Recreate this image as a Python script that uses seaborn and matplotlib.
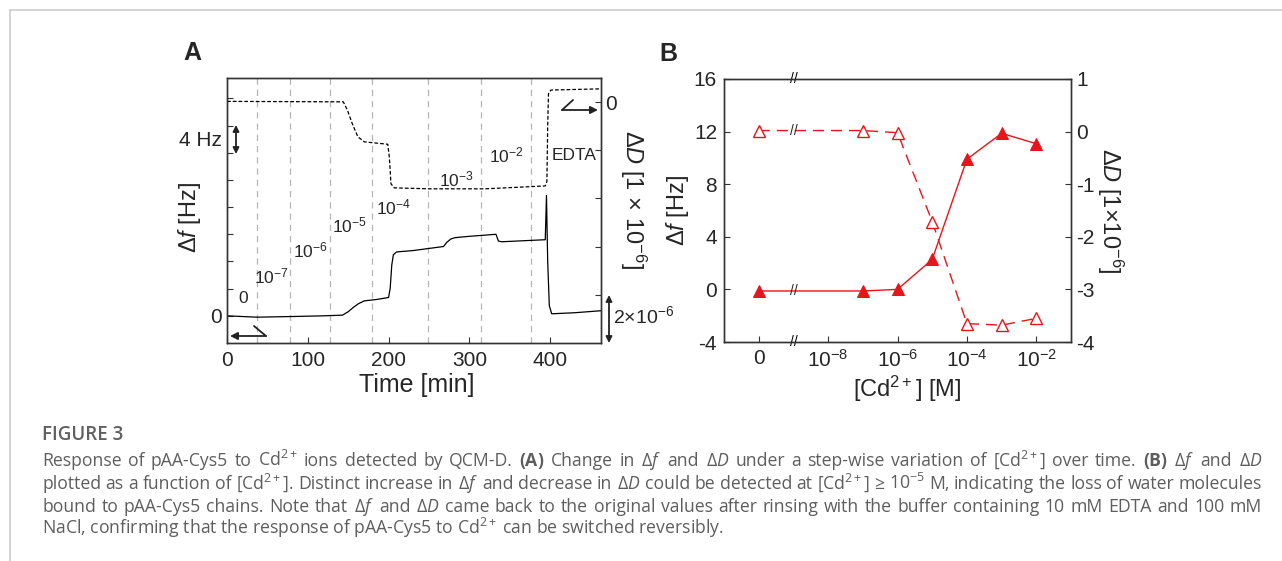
import numpy as np
import seaborn as sns
import matplotlib.pyplot as plt
from matplotlib.lines import Line2D

# ---- data ----
# panel A: QCM-D traces over time
time_f = [0, 37, 82, 120, 143, 150, 157, 163, 170, 185, 200, 202, 204, 206, 210, 230,
          268, 272, 277, 282, 300, 333, 336, 340, 394, 395.5, 397, 399, 402, 430, 463]
df_hz = [0, -0.2, -0.1, 0.0, 0.1, 0.6, 1.3, 1.8, 2.2, 2.4, 2.7, 4.0, 7.5, 9.0, 9.4, 9.6,
         10.2, 10.8, 11.3, 11.5, 11.7, 12.0, 11.0, 10.9, 11.2, 17.7, 8.0, 1.5, 0.3, 0.45, 0.75]
time_d = [0, 144, 149, 155, 162, 170, 199, 201, 203, 207, 250, 320, 394, 396, 397, 398, 401, 463]
dd_1e6 = [0.03, 0.01, -0.33, -0.89, -1.44, -1.65, -1.75, -2.3, -3.39, -3.56, -3.6, -3.6,
          -3.48, -3.3, -1.0, 0.35, 0.5, 0.55]
inject_times = [37, 78, 127.5, 179, 249, 315, 376.5]
step_labels = ["0", "$10^{-7}$", "$10^{-6}$", "$10^{-5}$", "$10^{-4}$", "$10^{-3}$", "$10^{-2}$"]
step_label_t = [20, 55, 103, 152, 206, 284, 346]
step_label_hz = [2.5, 5.8, 9.6, 13.3, 16.0, 20.0, 23.6]

# panel B: plateau values vs concentration
conc = [0, 1e-7, 1e-6, 1e-5, 1e-4, 1e-3, 1e-2]
df_b = [-0.12, -0.12, 0.0, 2.28, 9.9, 11.87, 11.08]
dd_b = [0.02, 0.02, -0.02, -1.71, -3.65, -3.68, -3.55]
conc_ticks = ["0", "$10^{-8}$", "$10^{-6}$", "$10^{-4}$", "$10^{-2}$"]

caption = [
    r"Response of pAA-Cys5 to Cd$^{\mathsf{2+}}$ ions detected by QCM-D. $\mathbf{(A)}$ Change in Δ$\mathcal{f}$ and Δ$\mathcal{D}$ under a step-wise variation of [Cd$^{\mathsf{2+}}$] over time. $\mathbf{(B)}$ Δ$\mathcal{f}$ and Δ$\mathcal{D}$",
    r"plotted as a function of [Cd$^{\mathsf{2+}}$]. Distinct increase in Δ$\mathcal{f}$ and decrease in Δ$\mathcal{D}$ could be detected at [Cd$^{\mathsf{2+}}$] ≥ 10$^{\mathsf{-5}}$ M, indicating the loss of water molecules",
    r"bound to pAA-Cys5 chains. Note that Δ$\mathcal{f}$ and Δ$\mathcal{D}$ came back to the original values after rinsing with the buffer containing 10 mM EDTA and 100 mM",
    r"NaCl, confirming that the response of pAA-Cys5 to Cd$^{\mathsf{2+}}$ can be switched reversibly.",
]

sns.set_style("ticks")
plt.rcParams["font.family"] = ["Liberation Sans", "DejaVu Sans"]
plt.rcParams["axes.unicode_minus"] = False
plt.rcParams["mathtext.fontset"] = "custom"
plt.rcParams["mathtext.rm"] = "Liberation Sans"
plt.rcParams["mathtext.it"] = "Liberation Sans:italic"
plt.rcParams["mathtext.sf"] = "Open Sans"
plt.rcParams["mathtext.cal"] = "Open Sans:italic"
plt.rcParams["mathtext.bf"] = "Open Sans:bold"

W, H = 1282, 561
red = "#e8141b"
spine_c = "#333333"

fig = plt.figure(figsize=(W / 100, H / 100), dpi=100)


def fpx(x, y):
    # picture pixel (top-left origin) -> figure pixels
    return (x, H - y)


def style_box(ax):
    for s in ax.spines.values():
        s.set_visible(True)
        s.set_color(spine_c)
        s.set_linewidth(1.0)


# ---------------- panel A ----------------
axA = fig.add_axes([227 / W, 1 - 343 / H, 374 / W, 265 / H])
axA2 = axA.twinx()
for t in inject_times:
    axA.axvline(t, color="#b5b5b5", lw=0.9, ls=(0, (5, 4)), zorder=0)
sns.lineplot(x=time_f, y=df_hz, ax=axA, color="black", lw=0.9, estimator=None, sort=False)
sns.lineplot(x=time_d, y=dd_1e6, ax=axA2, color="black", lw=0.9, estimator=None, sort=False,
             linestyle=(0, (3, 1.6)))
axA.set_xlim(0, 463)
axA.set_ylim(-4, 35)
axA2.set_ylim(-10, 1)
axA.set_xticks([0, 100, 200, 300, 400])
axA.set_yticks(np.arange(0, 33, 4))
axA.set_yticklabels(["0"] + [""] * 8)
axA2.set_yticks([0, -2, -4, -6, -8])
axA2.set_yticklabels(["0", "", "", "", ""])
axA.tick_params(axis="x", direction="in", length=4, labelsize=15, pad=6, color=spine_c)
axA.tick_params(axis="y", direction="in", length=4, labelsize=15, pad=4, color=spine_c)
axA2.tick_params(axis="y", direction="in", length=4, labelsize=15, pad=3, color=spine_c)
style_box(axA)
style_box(axA2)
axA.set_xlabel("Time [min]", fontsize=18)
axA.xaxis.set_label_coords(0.508, -0.113)
axA.set_ylabel(r"Δ$f$ [Hz]", fontsize=17)
axA.yaxis.set_label_coords(-0.064, 0.475)
axA2.set_ylabel(r"Δ$D$ [1 × 10$^{-6}$]", fontsize=17, rotation=270, va="center")
axA2.yaxis.set_label_coords(1.086, 0.54)
for lab, t, hz in zip(step_labels, step_label_t, step_label_hz):
    axA.text(t, hz, lab, fontsize=12.5, ha="center", va="center")
axA.text(402, 23.6, "EDTA", fontsize=12.5, ha="left", va="center")

# ---------------- panel B ----------------
axB = fig.add_axes([724 / W, 1 - 342 / H, 347 / W, 263 / H])
axB2 = axB.twinx()
x_b = [np.log10(c) if c > 0 else -10 for c in conc]
sns.lineplot(x=x_b, y=df_b, ax=axB, color=red, lw=1, marker="^", markersize=9,
             markeredgecolor=red, markerfacecolor=red, estimator=None)
sns.lineplot(x=x_b, y=dd_b, ax=axB2, color=red, lw=1, marker="^", markersize=9,
             markeredgecolor=red, markerfacecolor="white", markeredgewidth=1,
             linestyle=(0, (8, 5)), estimator=None)
axB.set_xlim(-11, -1)
axB.set_ylim(-4, 16)
axB2.set_ylim(-4, 1)
axB.set_xticks([-10, -8, -6, -4, -2])
axB.set_xticklabels(conc_ticks)
axB.set_yticks([-4, 0, 4, 8, 12, 16])
axB2.set_yticks([-4, -3, -2, -1, 0, 1])
axB.tick_params(axis="x", direction="in", length=4, labelsize=15, pad=5, color=spine_c)
axB.tick_params(axis="y", direction="in", length=4, labelsize=15, pad=5, color=spine_c)
axB2.tick_params(axis="y", direction="in", length=4, labelsize=15, pad=4, color=spine_c)
style_box(axB)
style_box(axB2)
axB.set_xlabel("[Cd$^{2+}$] [M]", fontsize=17)
axB.xaxis.set_label_coords(0.527, -0.12)
axB.set_ylabel(r"Δ$f$ [Hz]", fontsize=17)
axB.yaxis.set_label_coords(-0.095, 0.5)
axB2.set_ylabel(r"Δ$D$ [1×10$^{-6}$]", fontsize=17, rotation=270, va="center")
axB2.yaxis.set_label_coords(1.112, 0.5)

# axis-break marks at the gap between 0 and 10^-8
brk = -9
for yy in (0, 1):
    axB.annotate("//", xy=(brk, yy), xycoords=("data", "axes fraction"),
                 ha="center", va="center", fontsize=10, color="black")
axB.annotate("//", xy=(brk, np.mean(df_b[:2])), ha="center", va="center", fontsize=10)
axB2.annotate("//", xy=(brk, np.mean(dd_b[:2])), ha="center", va="center", fontsize=10)

# ---------------- arrows ----------------
arrow_kw = dict(arrowstyle="-|>", color="#222222", lw=1.3, mutation_scale=11, shrinkA=0, shrinkB=0)
line_kw = dict(arrowstyle="-", color="#222222", lw=1.3, shrinkA=0, shrinkB=0)
dbl_kw = dict(arrowstyle="<|-|>", color="#222222", lw=1.3, mutation_scale=9, shrinkA=0, shrinkB=0)


def hook(p0, p1, p2):
    fig.axes[0].annotate("", xy=fpx(*p1), xytext=fpx(*p0), xycoords="figure pixels",
                         textcoords="figure pixels", arrowprops=line_kw, annotation_clip=False)
    fig.axes[0].annotate("", xy=fpx(*p2), xytext=fpx(*p1), xycoords="figure pixels",
                         textcoords="figure pixels", arrowprops=arrow_kw, annotation_clip=False)


def dbl(p0, p1):
    fig.axes[0].annotate("", xy=fpx(*p1), xytext=fpx(*p0), xycoords="figure pixels",
                         textcoords="figure pixels", arrowprops=dbl_kw, annotation_clip=False)


hook((254, 326), (266, 336), (230, 336))
hook((573, 100), (562, 110), (598, 110))
hook((775, 303), (790, 314), (753, 314))
hook((1025, 303), (1012, 292), (1047, 292))
dbl((236, 125), (236, 154))
dbl((609, 295), (609, 343))
fig.text(222 / W, 1 - 140 / H, "4 Hz", fontsize=15, ha="right", va="center")
fig.text(613 / W, 1 - 316 / H, r"2×10$^{-6}$", fontsize=14, ha="left", va="center")

# panel letters
fig.text(192 / W, 1 - 53 / H, "A", fontsize=18, weight="bold", ha="center", va="center")
fig.text(668 / W, 1 - 54 / H, "B", fontsize=18, weight="bold", ha="center", va="center")

# ---------------- frame and caption ----------------
fig.add_artist(Line2D([9.5 / W, 1], [1 - 10 / H] * 2, color="#cccccc", lw=1.2))
fig.add_artist(Line2D([9.5 / W] * 2, [0, 1 - 10 / H], color="#cccccc", lw=1.2))
fig.text(42 / W, 1 - 440.5 / H, "FIGURE 3", fontsize=13.5, family="Open Sans",
         weight="semibold", color="#606060", ha="left", va="baseline")

# caption is justified between x = 42 and x = 1262
cap_family = ["Open Sans", "DejaVu Sans"]
cap_left, cap_right = 42, 1262
renderer = fig.canvas.get_renderer()


def text_width(s, fs):
    t = fig.text(0, 0, s, fontsize=fs, family=cap_family)
    w = t.get_window_extent(renderer).width
    t.remove()
    return w


base_fs = 13.3
widest = max(text_width(line, base_fs) for line in caption[:-1])
cap_fs = base_fs * min(1.0, (cap_right - cap_left) / widest)

for i, line in enumerate(caption):
    y = 1 - (466 + 22.8 * i) / H
    if i == len(caption) - 1:
        fig.text(cap_left / W, y, line, fontsize=cap_fs, family=cap_family,
                 color="#5e5e5e", ha="left", va="baseline")
        continue
    words = line.split(" ")
    widths = [text_width(wd, cap_fs) for wd in words]
    gap = (cap_right - cap_left - sum(widths)) / (len(words) - 1)
    x = cap_left
    for wd, w in zip(words, widths):
        fig.text(x / W, y, wd, fontsize=cap_fs, family=cap_family,
                 color="#5e5e5e", ha="left", va="baseline")
        x += w + gap

fig.savefig("out.png", dpi=100)
